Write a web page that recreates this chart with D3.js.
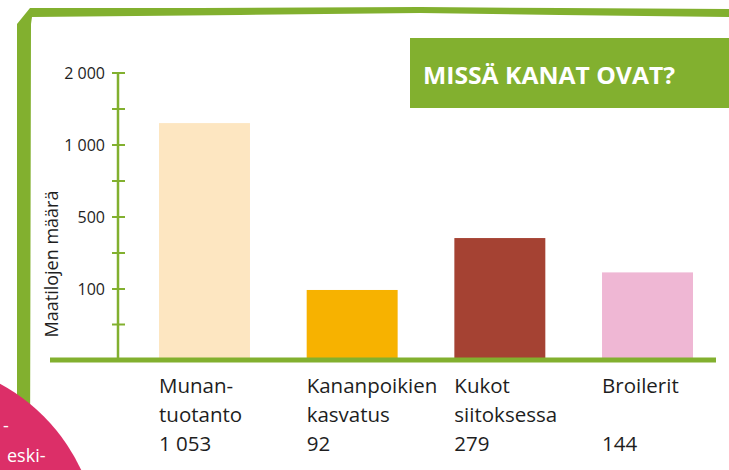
<!DOCTYPE html>
<html>
<head>
<meta charset="utf-8">
<script src="https://cdn.jsdelivr.net/npm/d3@7"></script>
<style>
  html, body { margin: 0; padding: 0; background: #fff; }
  svg { display: block; }
  text { font-family: "Open Sans", "Noto Sans", sans-serif; }
</style>
</head>
<body>
<svg id="chart" width="729" height="470"></svg>
<script>
// ---- data ----
const categories = [
  ["Munan-", "tuotanto"],
  ["Kananpoikien", "kasvatus"],
  ["Kukot", "siitoksessa"],
  ["Broilerit", ""]
];
const values = [1053, 92, 279, 144];
const valueLabels = ["1 053", "92", "279", "144"];
const barColors = ["#fde6c1", "#f7b200", "#a54233", "#efb7d4"];
const axisTicks = [100, 500, 1000, 2000];
const axisTickLabels = ["100", "500", "1 000", "2 000"];
const axisMinorTicks = [50, 300, 750, 1500];
const title = "MISSÄ KANAT OVAT?";
const yTitle = "Maatilojen määrä";

// ---- layout ----
const W = 729, H = 470;
const green = "#82b02f";
const pink = "#dc2f68";
const textCol = "#1e1e1e";
const baseY = 360;
const axisX = 118;

const svg = d3.select("#chart");

// frame (hand-drawn look)
svg.append("path")
  .attr("d", "M17,24 L17,470 L30,470 L31,24 L32,17 L240,15 L420,13 L560,15 L729,17 L729,9 L560,8 L420,7 L200,8 L30,8 Z")
  .attr("fill", green);

// scales
const x = d3.scaleBand()
  .domain(d3.range(categories.length))
  .range([159, 693])
  .paddingInner(0.384)
  .paddingOuter(0);

// axis scale (piecewise, as labelled in the graphic)
const yAxisScale = d3.scaleLinear()
  .domain([0, 100, 500, 1000, 2000])
  .range([baseY, 289, 217, 145, 73]);

// bar scale (bars drawn on a sqrt scale)
const yBar = d3.scaleSqrt()
  .domain([0, 2000])
  .range([baseY, 33.5]);

// bars
svg.append("g").selectAll("rect")
  .data(values)
  .join("rect")
  .attr("x", (d, i) => x(i))
  .attr("width", x.bandwidth())
  .attr("y", d => yBar(d))
  .attr("height", d => baseY - yBar(d))
  .attr("fill", (d, i) => barColors[i]);

// y axis
const axisG = svg.append("g");
axisG.append("line")
  .attr("x1", axisX).attr("x2", axisX)
  .attr("y1", yAxisScale(2000)).attr("y2", baseY)
  .attr("stroke", green).attr("stroke-width", 2.5);

axisG.selectAll("line.tick")
  .data(axisTicks.concat(axisMinorTicks))
  .join("line")
  .attr("class", "tick")
  .attr("x1", axisX - 6).attr("x2", axisX + 7)
  .attr("y1", d => yAxisScale(d)).attr("y2", d => yAxisScale(d))
  .attr("stroke", green).attr("stroke-width", 2);

axisG.selectAll("text.tl")
  .data(axisTicks)
  .join("text")
  .attr("class", "tl")
  .attr("x", axisX - 13)
  .attr("y", d => yAxisScale(d))
  .attr("dy", "0.36em")
  .attr("text-anchor", "end")
  .attr("font-size", 16)
  .attr("fill", textCol)
  .text((d, i) => axisTickLabels[i]);

// baseline
svg.append("line")
  .attr("x1", 50).attr("x2", 716)
  .attr("y1", baseY).attr("y2", baseY)
  .attr("stroke", green).attr("stroke-width", 5);

// y title
svg.append("text")
  .attr("transform", `translate(58,264) rotate(-90)`)
  .attr("text-anchor", "middle")
  .attr("font-size", 18)
  .attr("fill", textCol)
  .text(yTitle);

// category labels
const labG = svg.append("g").selectAll("g")
  .data(categories)
  .join("g")
  .attr("transform", (d, i) => `translate(${x(i)},0)`);
labG.append("text").attr("y", 393).attr("font-size", 20.5).attr("fill", textCol).text(d => d[0]);
labG.append("text").attr("y", 422).attr("font-size", 20.5).attr("fill", textCol).text(d => d[1]);
labG.append("text").attr("y", 451).attr("font-size", 20.5).attr("fill", textCol).text((d, i) => valueLabels[i]);

// title box
svg.append("rect")
  .attr("x", 410).attr("y", 38).attr("width", W - 410).attr("height", 70)
  .attr("fill", green);
svg.append("text")
  .attr("x", 423).attr("y", 83.5)
  .attr("font-size", 23)
  .attr("font-weight", "bold")
  .attr("fill", "#fff")
  .attr("textLength", 252)
  .attr("lengthAdjust", "spacingAndGlyphs")
  .text(title);

// pink circle (decorative, from neighbouring panel)
svg.append("circle")
  .attr("cx", -90).attr("cy", 550).attr("r", 189)
  .attr("fill", pink);
svg.append("text")
  .attr("x", 3).attr("y", 432)
  .attr("font-size", 18).attr("fill", "#fff")
  .text("-");
svg.append("text")
  .attr("x", 7).attr("y", 462)
  .attr("font-size", 18).attr("fill", "#fff")
  .text("eski-");
</script>
</body>
</html>
